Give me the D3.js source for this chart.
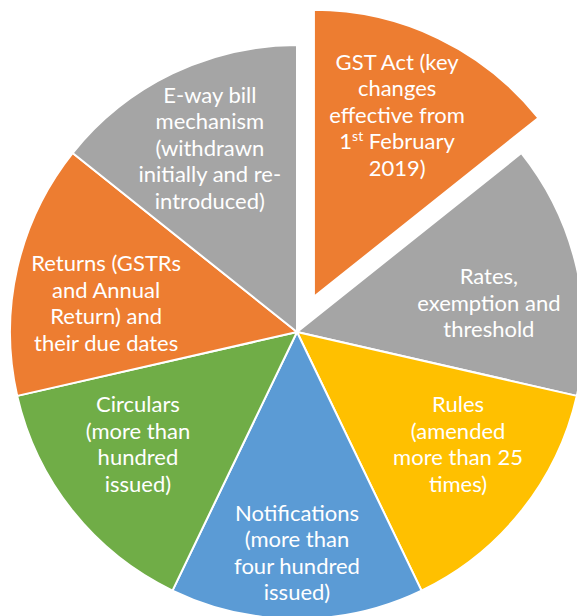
<!DOCTYPE html>
<html>
<head>
<meta charset="utf-8">
<script src="https://cdn.jsdelivr.net/npm/d3@7"></script>
<style>
  body { margin: 0; background: #fff; }
  svg { display: block; }
  .label { fill: #fff; font-family: Lato, "Open Sans", sans-serif; font-size: 22px; }
</style>
</head>
<body>
<script>
// data
var categories = ["GST Act", "Rates", "Rules", "Notifications", "Circulars", "Returns", "E-way bill"];
var values = [1, 1, 1, 1, 1, 1, 1];
var labelLines = [
  ["GST Act (key", "changes", "effective from", "1^st February", "2019)"],
  ["Rates,", "exemption and", "threshold"],
  ["Rules", "(amended", "more than 25", "times)"],
  ["Notifications", "(more than", "four hundred", "issued)"],
  ["Circulars", "(more than", "hundred", "issued)"],
  ["Returns (GSTRs", "and Annual", "Return) and", "their due dates"],
  ["E-way bill", "mechanism", "(withdrawn", "initially and re-", "introduced)"]
];
var colors = ["#ED7D31", "#A5A5A5", "#FFC000", "#5B9BD5", "#70AD47", "#ED7D31", "#A5A5A5"];
var exploded = ["GST Act"];

// label fine tuning (px) relative to the arc centroid
var nudge = [[-4, -1], [-4, 16], [4, -13], [0, 20], [-2, -13], [5, 16], [0, -3]];

var width = 577, height = 616,
    cx = 297, cy = 332,
    radius = 287,
    explodeDist = 39,
    lineH = 26.5;

var svg = d3.select("body").append("svg")
    .attr("width", width)
    .attr("height", height);

var g = svg.append("g")
    .attr("transform", "translate(" + cx + "," + cy + ")");

var data = categories.map(function(c, i) {
  return {name: c, value: values[i], lines: labelLines[i], color: colors[i], i: i};
});

var pie = d3.pie()
    .sort(null)
    .value(function(d) { return d.value; });

var arc = d3.arc()
    .innerRadius(0)
    .outerRadius(radius);

var labelArc = d3.arc()
    .innerRadius(radius * 0.7)
    .outerRadius(radius * 0.7);

var slices = g.selectAll(".slice")
    .data(pie(data))
    .enter().append("g")
    .attr("class", "slice")
    .attr("transform", function(d) {
      if (exploded.indexOf(d.data.name) < 0) return null;
      var a = (d.startAngle + d.endAngle) / 2;
      return "translate(" + (Math.sin(a) * explodeDist) + "," + (-Math.cos(a) * explodeDist) + ")";
    });

slices.append("path")
    .attr("d", arc)
    .attr("fill", function(d) { return d.data.color; })
    .attr("stroke", "#fff")
    .attr("stroke-width", 2)
    .attr("stroke-linejoin", "round");

var labels = slices.append("text")
    .attr("class", "label")
    .attr("text-anchor", "middle")
    .attr("transform", function(d) {
      var c = labelArc.centroid(d), n = nudge[d.data.i];
      return "translate(" + (c[0] + n[0]) + "," + (c[1] + n[1]) + ")";
    });

labels.each(function(d) {
  var t = d3.select(this);
  var n = d.data.lines.length;
  d.data.lines.forEach(function(line, k) {
    var ts = t.append("tspan")
        .attr("x", 0)
        .attr("y", (k - (n - 1) / 2) * lineH)
        .attr("dy", "0.35em");
    var parts = line.split("^");
    if (parts.length > 1) {
      // superscript ordinal, e.g. 1st
      var sup = parts[1].split(" ");
      ts.append("tspan").text(parts[0]);
      ts.append("tspan")
        .attr("baseline-shift", "super")
        .attr("font-size", "14px")
        .text(sup[0]);
      ts.append("tspan").text(" " + sup.slice(1).join(" "));
    } else {
      ts.text(line);
    }
  });
});
</script>
</body>
</html>
